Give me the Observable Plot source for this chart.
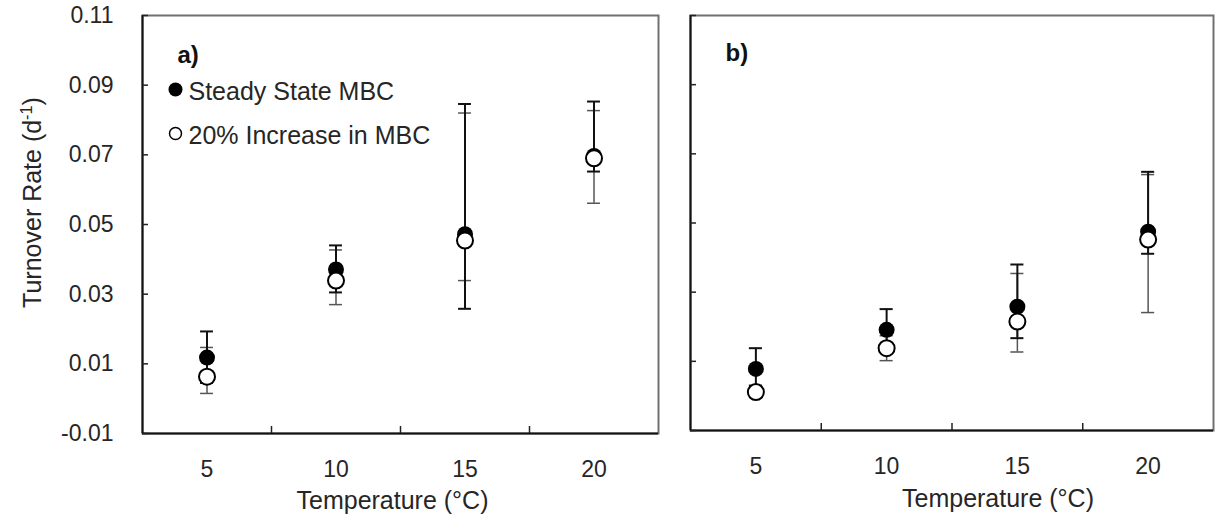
<!DOCTYPE html>
<html><head><meta charset="utf-8">
<script src="https://cdn.jsdelivr.net/npm/d3@7"></script>
<script src="https://cdn.jsdelivr.net/npm/@observablehq/plot@0.6"></script>
<style>
body{margin:0;background:#fff;}
#chart{position:relative;width:1217px;height:518px;background:#fff;font-family:"Liberation Sans",Arial,sans-serif;}
#chart svg{position:absolute;top:0;overflow:visible;}
</style></head><body><div id="chart"></div>
<script>
// ---- data ----
const temperatures = [5, 10, 15, 20];
const seriesNames = ["Steady State MBC", "20% Increase in MBC"];
const panelLabels = ["a)", "b)"];
const xTitle = "Temperature (°C)";
const yTitle = "Turnover Rate (d-1)";
const yTicks = [-0.01, 0.01, 0.03, 0.05, 0.07, 0.09, 0.11];
const xBoundaryTicks = [7.5, 12.5, 17.5];

// panel a
const aSteady     = [0.0118, 0.0371, 0.0472, 0.0697];
const aSteadyLow  = [0.0045, 0.0305, 0.0258, 0.0652];
const aSteadyHigh = [0.0193, 0.0440, 0.0846, 0.0853];
const aIncrease     = [0.0063, 0.0339, 0.0454, 0.0690];
const aIncreaseLow  = [0.0015, 0.0270, 0.0339, 0.0561];
const aIncreaseHigh = [0.0147, 0.0427, 0.0820, 0.0827];

// panel b
const bSteady     = [0.0078, 0.0191, 0.0258, 0.0475];
const bSteadyLow  = [0.0030, 0.0131, 0.0167, 0.0411];
const bSteadyHigh = [0.0138, 0.0251, 0.0380, 0.0648];
const bIncrease     = [0.0011, 0.0138, 0.0215, 0.0452];
const bIncreaseLow  = [-0.0003, 0.0102, 0.0127, 0.0241];
const bIncreaseHigh = [0.0025, 0.0174, 0.0354, 0.0640];

// ---- build ----
const rows = (m, lo, hi) => temperatures.map((t, i) => ({t, v: m[i], lo: lo[i], hi: hi[i]}));
const capHalf = 0.25;
const txt = "#262626";

function panel({steady, increase, label, labelDy, showY, legend, width, margins, xTitleDx, xTitleDy}) {
  const errMarks = (data, stroke, sw) => [
    Plot.ruleX(data, {x: "t", y1: "lo", y2: "hi", stroke, strokeWidth: sw}),
    Plot.ruleY(data, {y: "lo", x1: d => d.t - capHalf, x2: d => d.t + capHalf, stroke, strokeWidth: sw}),
    Plot.ruleY(data, {y: "hi", x1: d => d.t - capHalf, x2: d => d.t + capHalf, stroke, strokeWidth: sw})
  ];
  const marks = [
    Plot.frame({stroke: "#707070", strokeWidth: 2}),
    Plot.ruleX([2.5], {stroke: "#111", strokeWidth: 2}),
    Plot.ruleY([-0.01], {stroke: "#111", strokeWidth: 2}),
    Plot.axisY({ticks: yTicks, tickSize: -6, tickFormat: () => "", stroke: "#222", strokeWidth: 1.5}),
    Plot.axisX({ticks: xBoundaryTicks, tickSize: -7, tickFormat: () => "", stroke: "#222", strokeWidth: 1.5}),
    Plot.axisX({ticks: temperatures, tickSize: 0, tickPadding: 27, fontSize: 23, fill: txt, tickFormat: d => String(d)}),
    Plot.text([xTitle], {frameAnchor: "bottom", text: d => d, dx: xTitleDx, dy: xTitleDy, fontSize: 25, fill: txt, textAnchor: "middle", lineAnchor: "middle"}),
    Plot.text([label], {frameAnchor: "top-left", text: d => d, dx: 35, dy: labelDy, fontSize: 24, fontWeight: "bold", textAnchor: "start", lineAnchor: "middle", fill: "#111"}),
    ...errMarks(increase, "#555", 1.5),
    ...errMarks(steady, "#111", 2),
    Plot.dot(steady, {x: "t", y: "v", r: 8, fill: "#000"}),
    Plot.dot(increase, {x: "t", y: "v", r: 8, fill: "#fff", stroke: "#000", strokeWidth: 2})
  ];
  if (showY) {
    marks.push(
      Plot.axisY({ticks: yTicks, tickSize: 0, tickPadding: 29, fontSize: 23, fill: txt, tickFormat: d => d.toFixed(2)}),
      Plot.text([yTitle], {frameAnchor: "left", text: d => d, rotate: -90, dx: -110, dy: -22, fontSize: 25, fill: txt, textAnchor: "middle", lineAnchor: "middle", className: "ytitle"})
    );
  }
  if (legend) {
    marks.push(
      Plot.dot([seriesNames[0]], {frameAnchor: "top-left", dx: 33, dy: 74, r: 7, fill: "#000"}),
      Plot.text([seriesNames[0]], {frameAnchor: "top-left", text: d => d, dx: 46, dy: 76, fontSize: 25, textAnchor: "start", lineAnchor: "middle", fill: txt}),
      Plot.dot([seriesNames[1]], {frameAnchor: "top-left", dx: 33, dy: 118, r: 6, fill: "#fff", stroke: "#000", strokeWidth: 1.5}),
      Plot.text([seriesNames[1]], {frameAnchor: "top-left", text: d => d, dx: 46, dy: 120, fontSize: 25, textAnchor: "start", lineAnchor: "middle", fill: txt})
    );
  }
  return Plot.plot({
    width, height: 518,
    marginLeft: margins[0], marginRight: margins[1], marginTop: margins[2], marginBottom: margins[3],
    style: {fontFamily: '"Liberation Sans", Arial, sans-serif', background: "transparent", overflow: "visible"},
    x: {domain: [2.5, 22.5], label: null},
    y: {domain: [-0.01, 0.11], label: null},
    marks
  });
}

const chart = document.getElementById("chart");
const pa = panel({steady: rows(aSteady, aSteadyLow, aSteadyHigh), increase: rows(aIncrease, aIncreaseLow, aIncreaseHigh),
  label: panelLabels[0], labelDy: 40, showY: true, legend: true, width: 680, margins: [142, 22, 15, 85], xTitleDx: -8, xTitleDy: 67});
pa.style.left = "0px";
const pb = panel({steady: rows(bSteady, bSteadyLow, bSteadyHigh), increase: rows(bIncrease, bIncreaseLow, bIncreaseHigh),
  label: panelLabels[1], labelDy: 38, showY: false, legend: false, width: 537, margins: [10, 4, 15, 88], xTitleDx: 46, xTitleDy: 68});
pb.style.left = "680px";
chart.append(pa, pb);

// superscript for d-1
pa.querySelectorAll(".ytitle text").forEach(t => {
  t.innerHTML = 'Turnover Rate (d<tspan baseline-shift="super" font-size="0.65em">-1</tspan>)';
});
</script></body></html>
